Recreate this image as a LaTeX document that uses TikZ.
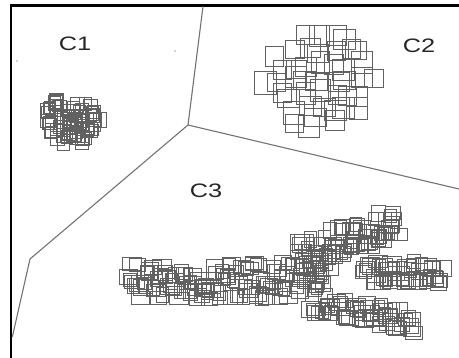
\documentclass[tikz,border=0pt]{standalone}
\usepackage{fontspec}
\setmainfont{Liberation Sans}
\newcommand\sqblob[6]{%
  \foreach \k in {1,...,#5}{%
    \pgfmathsetmacro\ang{360*rnd}%
    \pgfmathsetmacro\rr{pow(rnd,0.6)}%
    \pgfmathsetmacro\px{#1+#3*\rr*cos(\ang)}%
    \pgfmathsetmacro\py{#2+#4*\rr*sin(\ang)}%
    \pgfmathsetmacro\w{#6*(0.85+0.3*rnd)}%
    \pgfmathsetmacro\h{#6*(0.85+0.3*rnd)}%
    \draw[sq] (\px-\w/2,\py-\h/2) rectangle ++(\w,\h);
  }}
% jittered grid inside an ellipse: cx cy rx ry spacing size jitter
\newcommand\sqgrid[7]{%
  \foreach \gi in {-4,...,4}{%
    \foreach \gj in {-4,...,4}{%
      \pgfmathsetmacro\gx{\gi*#5+#7*rand}%
      \pgfmathsetmacro\gy{\gj*#5+#7*rand}%
      \pgfmathsetmacro\inside{(\gx/#3)^2+(\gy/#4)^2<=1?1:0}%
      \pgfmathsetmacro\w{#6*(0.88+0.25*rnd)}%
      \pgfmathsetmacro\h{#6*(0.88+0.25*rnd)}%
      \ifdim\inside pt>0.5pt
        \draw[sq] (#1+\gx-\w/2,#2+\gy-\h/2) rectangle ++(\w,\h);
      \fi
    }}}
\newcommand\sqbranch[7]{%
  \foreach \k in {1,...,#5}{%
    \pgfmathsetmacro\t{(\k-1+rnd)/#5}%
    \pgfmathsetmacro\len{veclen(#3-#1,#4-#2)}%
    \pgfmathsetmacro\off{#6*rand}%
    \pgfmathsetmacro\px{#1+\t*(#3-#1)-\off*(#4-#2)/\len}%
    \pgfmathsetmacro\py{#2+\t*(#4-#2)+\off*(#3-#1)/\len}%
    \pgfmathsetmacro\w{#7*(0.8+0.6*rnd)}%
    \pgfmathsetmacro\h{#7*(0.85+0.3*rnd)}%
    \draw[sq] (\px-\w/2,\py-\h/2) rectangle ++(\w,\h);
  }}
\begin{document}
\begin{tikzpicture}[x=1pt,y=-1pt,
  frame/.style={line width=2.4pt, black},
  part/.style={line width=1.1pt, black!55},
  sq/.style={line width=0.7pt, black!62},
  lbl/.style={font=\fontsize{19.5}{20}\selectfont, text=black!85, inner sep=0pt},
  speck/.style={fill=black!35}]
\useasboundingbox (0,0) rectangle (459,358);
\fill[white] (0,0) rectangle (459,358);
% frame (top and left only)
\draw[frame] (11.2,358) -- (11.2,5.7) -- (459,5.7);
% partition lines
\coordinate (J) at (188,125);
\coordinate (T) at (203,6.5);
\coordinate (R) at (459,189);
\coordinate (K) at (30,259);
\coordinate (L) at (12.3,337);
\draw[part] (T) -- (J) -- (R);
\draw[part] (J) -- (K) -- (L);
% specks
\fill[speck] (17,61) circle (0.8);
\fill[speck] (175,51) circle (0.8);
% labels
\node[lbl] (c1) at (75,44) {\scalebox{1.3}[1]{C1}};
\node[lbl] (c2) at (419,45.5) {\scalebox{1.3}[1]{C2}};
\node[lbl] (c3) at (206,191) {\scalebox{1.3}[1]{C3}};
% clusters
\pgfmathsetseed{4242}
\sqblob{72}{121}{29}{24}{75}{13}
\sqgrid{320}{80}{56}{50}{14}{20}{5}
\sqbranch{128}{281}{322}{280}{125}{18}{14}
\sqblob{316}{276}{18}{20}{12}{14}
\sqbranch{298}{258}{397}{221}{70}{15}{14}
\sqbranch{362}{272}{442}{272}{48}{11}{14}
\sqbranch{312}{301}{416}{323}{55}{12}{14}
\end{tikzpicture}
\end{document}
